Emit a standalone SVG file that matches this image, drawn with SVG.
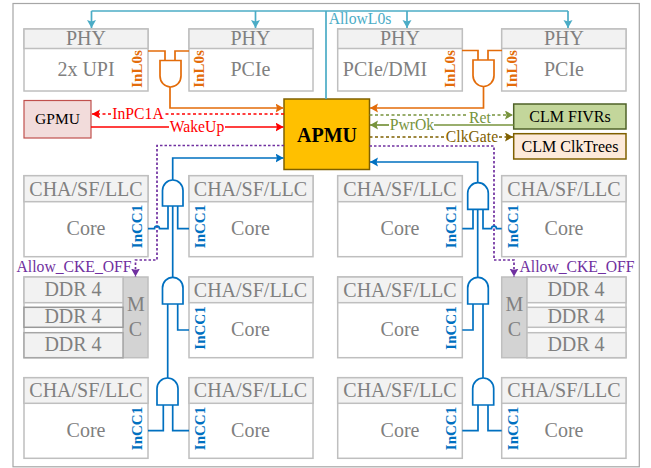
<svg xmlns="http://www.w3.org/2000/svg" width="651" height="468" viewBox="0 0 651 468">
<style>
text{font-family:"Liberation Serif","Times New Roman",serif;}
.box{fill:#fff;stroke:#bfbfbf;stroke-width:1.5}
.hd{fill:#f2f2f2;stroke:#bfbfbf;stroke-width:1.5}
.mc{fill:#d3d3d3;stroke:#bfbfbf;stroke-width:1.5}
.g{font-size:20px;fill:#808080;text-anchor:middle}
.blk{font-size:16px;fill:#000;text-anchor:middle}
.rl{font-size:15px;font-weight:bold;text-anchor:middle}
.or{fill:#e36c0a}.bl{fill:#0070c0}
.c{fill:none;stroke-width:1.7}
.gate{fill:#fff;stroke-width:1.7}
.lab{font-size:15.7px;text-anchor:middle}
</style>
<defs>
<marker id="aT" markerUnits="userSpaceOnUse" markerWidth="9" markerHeight="10" refX="8" refY="4.5" orient="auto"><path d="M0 0L8 4.500L0 9L1.500 4.500Z" fill="#4bacc6"/></marker>
<marker id="aO" markerUnits="userSpaceOnUse" markerWidth="9" markerHeight="10" refX="8" refY="4.5" orient="auto"><path d="M0 0L8 4.500L0 9L1.500 4.500Z" fill="#e36c0a"/></marker>
<marker id="aR" markerUnits="userSpaceOnUse" markerWidth="9" markerHeight="10" refX="8" refY="4.5" orient="auto"><path d="M0 0L8 4.500L0 9L1.500 4.500Z" fill="#f00"/></marker>
<marker id="aG" markerUnits="userSpaceOnUse" markerWidth="9" markerHeight="10" refX="8" refY="4.5" orient="auto"><path d="M0 0L8 4.500L0 9L1.500 4.500Z" fill="#77933c"/></marker>
<marker id="aB" markerUnits="userSpaceOnUse" markerWidth="9" markerHeight="10" refX="8" refY="4.5" orient="auto"><path d="M0 0L8 4.500L0 9L1.500 4.500Z" fill="#7f6000"/></marker>
<marker id="aP" markerUnits="userSpaceOnUse" markerWidth="9" markerHeight="10" refX="8" refY="4.5" orient="auto"><path d="M0 0L8 4.500L0 9L1.500 4.500Z" fill="#7030a0"/></marker>
<marker id="aL" markerUnits="userSpaceOnUse" markerWidth="9" markerHeight="10" refX="8" refY="4.5" orient="auto"><path d="M0 0L8 4.500L0 9L1.500 4.500Z" fill="#0070c0"/></marker>
</defs>
<rect width="651" height="468" fill="#fff"/>
<rect id="frame" x="13" y="3.5" width="626.3" height="463.3" fill="#fff" stroke="#a6a6a6" stroke-width="1.2"/>

<g id="phy1"><rect class="box" x="24" y="29" width="124" height="62"/><rect class="hd" x="24" y="29" width="124" height="19.5"/><text class="g" x="86" y="45">PHY</text><text class="g" x="86" y="76">2x UPI</text><text class="rl or" transform="translate(141.5,69) rotate(-90)">InL0s</text></g>
<g id="phy2"><rect class="box" x="189" y="29" width="124" height="62"/><rect class="hd" x="189" y="29" width="124" height="19.5"/><text class="g" x="250.5" y="45">PHY</text><text class="g" x="250.5" y="76">PCIe</text><text class="rl or" transform="translate(204,69) rotate(-90)">InL0s</text></g>
<g id="phy3"><rect class="box" x="337.7" y="29" width="124.6" height="62"/><rect class="hd" x="337.7" y="29" width="124.6" height="19.5"/><text class="g" x="400" y="45">PHY</text><text class="g" x="385" y="76">PCIe/DMI</text><text class="rl or" transform="translate(455,69) rotate(-90)">InL0s</text></g>
<g id="phy4"><rect class="box" x="501.7" y="29" width="124.3" height="62"/><rect class="hd" x="501.7" y="29" width="124.3" height="19.5"/><text class="g" x="564" y="45">PHY</text><text class="g" x="564" y="76">PCIe</text><text class="rl or" transform="translate(517,69) rotate(-90)">InL0s</text></g>

<g id="gpmu"><rect x="24" y="100.5" width="67" height="37.5" fill="#f2dcdb" stroke="#c0504d" stroke-width="1.2"/><text class="blk" style="font-size:15.5px" x="57.5" y="124">GPMU</text></g>
<g id="apmu"><rect x="284" y="99" width="85.5" height="70.5" fill="#ffc000" stroke="#7f6000" stroke-width="1.5"/><text x="327" y="142" font-size="20" font-weight="bold" text-anchor="middle">APMU</text></g>
<g id="fivr"><rect x="513.7" y="104" width="112.3" height="25" fill="#c3d69b" stroke="#4f6228" stroke-width="1.5"/><text class="blk" x="570" y="121.5">CLM FIVRs</text></g>
<g id="clktrees"><rect x="513.7" y="133.7" width="112.3" height="25.3" fill="#fdeada" stroke="#7f6000" stroke-width="1.5"/><text class="blk" x="570" y="151.5">CLM ClkTrees</text></g>

<g id="core-1-1"><rect class="box" x="24" y="175.7" width="124" height="81"/><rect class="hd" x="24" y="175.7" width="124" height="26"/><text class="g" x="86" y="195.5">CHA/SF/LLC</text><text class="g" x="86" y="235">Core</text><text class="rl bl" transform="translate(142,226.5) rotate(-90)">InCC1</text></g>
<g id="core-1-2"><rect class="box" x="189" y="175.7" width="124" height="81"/><rect class="hd" x="189" y="175.7" width="124" height="26"/><text class="g" x="250.5" y="195.5">CHA/SF/LLC</text><text class="g" x="250.5" y="235">Core</text><text class="rl bl" transform="translate(204.5,226.5) rotate(-90)">InCC1</text></g>
<g id="core-1-3"><rect class="box" x="337.7" y="175.7" width="124.6" height="81"/><rect class="hd" x="337.7" y="175.7" width="124.6" height="26"/><text class="g" x="400" y="195.5">CHA/SF/LLC</text><text class="g" x="400" y="235">Core</text><text class="rl bl" transform="translate(455.5,226.5) rotate(-90)">InCC1</text></g>
<g id="core-1-4"><rect class="box" x="501.7" y="175.7" width="124.3" height="81"/><rect class="hd" x="501.7" y="175.7" width="124.3" height="26"/><text class="g" x="564" y="195.5">CHA/SF/LLC</text><text class="g" x="564" y="235">Core</text><text class="rl bl" transform="translate(518,226.5) rotate(-90)">InCC1</text></g>

<g id="ddr-left"><rect class="mc" x="123" y="277" width="25" height="80.7"/><rect class="box" x="24" y="277" width="99" height="80.7"/><rect class="hd" x="24" y="277" width="99" height="25.7"/><rect class="hd" style="stroke:#999" x="24" y="307.3" width="99" height="20"/><rect class="hd" style="stroke:#a6a6a6" x="24" y="332.7" width="99" height="25"/><text class="g" x="73" y="296">DDR 4</text><text class="g" x="73" y="323">DDR 4</text><text class="g" x="73" y="351">DDR 4</text><text class="g" x="136" y="311">M</text><text class="g" x="135.5" y="336">C</text></g>
<g id="ddr-right"><rect class="mc" x="501.7" y="277" width="25.3" height="80.7"/><rect class="box" x="527" y="277" width="99" height="80.7"/><rect class="hd" x="527" y="277" width="99" height="25.7"/><rect class="hd" x="527" y="307.3" width="99" height="20"/><rect class="hd" x="527" y="332.7" width="99" height="25"/><text class="g" x="576" y="296">DDR 4</text><text class="g" x="576" y="323">DDR 4</text><text class="g" x="576" y="351">DDR 4</text><text class="g" x="514.5" y="311">M</text><text class="g" x="514.5" y="336">C</text></g>

<g id="core-2-2"><rect class="box" x="189" y="277" width="124" height="80.7"/><rect class="hd" x="189" y="277" width="124" height="25.7"/><text class="g" x="250.5" y="296.5">CHA/SF/LLC</text><text class="g" x="250.5" y="336">Core</text><text class="rl bl" transform="translate(204.5,328) rotate(-90)">InCC1</text></g>
<g id="core-2-3"><rect class="box" x="337.7" y="277" width="124.6" height="80.7"/><rect class="hd" x="337.7" y="277" width="124.6" height="25.7"/><text class="g" x="400" y="296.5">CHA/SF/LLC</text><text class="g" x="400" y="336">Core</text><text class="rl bl" transform="translate(455.5,328) rotate(-90)">InCC1</text></g>

<g id="core-3-1"><rect class="box" x="24" y="377.7" width="124" height="80.6"/><rect class="hd" x="24" y="377.7" width="124" height="25.6"/><text class="g" x="86" y="397">CHA/SF/LLC</text><text class="g" x="86" y="437">Core</text><text class="rl bl" transform="translate(142,428.5) rotate(-90)">InCC1</text></g>
<g id="core-3-2"><rect class="box" x="189" y="377.7" width="124" height="80.6"/><rect class="hd" x="189" y="377.7" width="124" height="25.6"/><text class="g" x="250.5" y="397">CHA/SF/LLC</text><text class="g" x="250.5" y="437">Core</text><text class="rl bl" transform="translate(204.5,428.5) rotate(-90)">InCC1</text></g>
<g id="core-3-3"><rect class="box" x="337.7" y="377.7" width="124.6" height="80.6"/><rect class="hd" x="337.7" y="377.7" width="124.6" height="25.6"/><text class="g" x="400" y="397">CHA/SF/LLC</text><text class="g" x="400" y="437">Core</text><text class="rl bl" transform="translate(455.5,428.5) rotate(-90)">InCC1</text></g>
<g id="core-3-4"><rect class="box" x="501.7" y="377.7" width="124.3" height="80.6"/><rect class="hd" x="501.7" y="377.7" width="124.3" height="25.6"/><text class="g" x="564" y="397">CHA/SF/LLC</text><text class="g" x="564" y="437">Core</text><text class="rl bl" transform="translate(518,428.5) rotate(-90)">InCC1</text></g>

<g id="connectors">
<g stroke="#4bacc6" fill="none">
<path class="c" d="M326 99V11"/>
<path class="c" d="M91.5 11H568"/>
<path class="c" d="M91.5 11V28" marker-end="url(#aT)"/>
<path class="c" d="M255.5 11V28" marker-end="url(#aT)"/>
<path class="c" d="M407 11V28" marker-end="url(#aT)"/>
<path class="c" d="M568 11V28" marker-end="url(#aT)"/>
</g>
<text class="lab" x="360" y="24" fill="#4bacc6">AllowL0s</text>

<g stroke="#e36c0a" fill="none">
<path class="c" d="M148 51H165V60.5M189 51H175V60.5"/>
<path class="c" d="M170 87V108H283.500" marker-end="url(#aO)"/>
<path class="gate" d="M160 60.5H181V76A10.5 11 0 0 1 160 76Z"/>
<path class="c" d="M462 50.5H478V60M502 50.5H488V60"/>
<path class="c" d="M483.5 86.500V108H370" marker-end="url(#aO)"/>
<path class="gate" d="M473 60H494V75.500A10.500 11 0 0 1 473 75.500Z"/>
</g>

<g fill="none" stroke="#f00">
<path class="c" stroke-dasharray="3 2.500" d="M284 114H165"/>
<path class="c" stroke-dasharray="3 2.500" d="M111 114H92" marker-end="url(#aR)"/>
<path class="c" d="M91 127H169"/>
<path class="c" d="M225 127H283.500" marker-end="url(#aR)"/>
</g>
<text class="lab" x="138" y="118.500" fill="#f00">InPC1A</text>
<text class="lab" x="197" y="131.500" fill="#f00">WakeUp</text>

<g fill="none" stroke="#77933c">
<path class="c" stroke-dasharray="3 2.500" d="M369.500 115H468"/>
<path class="c" stroke-dasharray="3 2.500" d="M492 115H513" marker-end="url(#aG)"/>
<path class="c" d="M513.700 125H434"/>
<path class="c" d="M389 125H370" marker-end="url(#aG)"/>
</g>
<text class="lab" x="480" y="123" fill="#77933c">Ret</text>
<text class="lab" x="412" y="130" fill="#77933c">PwrOk</text>

<g fill="none" stroke="#7f6000">
<path class="c" stroke-dasharray="3 2.500" d="M369.500 137H445"/>
<path class="c" stroke-dasharray="3 2.500" d="M499 137H513" marker-end="url(#aB)"/>
</g>
<text class="lab" x="472" y="142" fill="#7f6000">ClkGate</text>

<g fill="none" stroke="#7030a0">
<path class="c" stroke-dasharray="2.500 2" d="M284 145.500H157V260H135.500V276.500" marker-end="url(#aP)"/>
<path class="c" stroke-dasharray="2.500 2" d="M369.500 146H494V260H514V276.500" marker-end="url(#aP)"/>
</g>
<text x="16.500" y="272" font-size="15.700" fill="#7030a0">Allow_CKE_OFF</text>
<text x="519.500" y="272" font-size="15.700" fill="#7030a0">Allow_CKE_OFF</text>

<g fill="none" stroke="#0070c0">
<path class="c" d="M172.700 180V158H283.500" marker-end="url(#aL)"/>
<path class="c" d="M148 228.700H154.500a2.500 2.500 0 0 1 5 0H168V206"/>
<path class="c" d="M172.700 206V277.300"/>
<path class="c" d="M177.700 206V228.700H189"/>
<path class="gate" d="M162.500 206V190.500A10.250 10.500 0 0 1 183 190.500V206Z"/>
<path class="c" d="M167.700 304V378"/>
<path class="c" d="M177.700 304V330H189"/>
<path class="gate" d="M162.500 304V288A10.250 10.700 0 0 1 183 288V304Z"/>
<path class="c" d="M163.300 405V430.700H148"/>
<path class="c" d="M172.700 405V430.700H189"/>
<path class="gate" d="M157 405V388.500A10.500 10.500 0 0 1 178 388.500V405Z"/>

<path class="c" d="M477.700 183V162H370" marker-end="url(#aL)"/>
<path class="c" d="M473 209V228.700H462.300"/>
<path class="c" d="M477.700 209V277.300"/>
<path class="c" d="M483 209V228.700H491.500a2.500 2.500 0 0 1 5 0H501.700"/>
<path class="gate" d="M467.700 209.300V193.200A10.300 10.500 0 0 1 488.300 193.200V209.300Z"/>
<path class="c" d="M473 304V330H462.300"/>
<path class="c" d="M483 304V378"/>
<path class="gate" d="M467.700 304V288A10.300 10.700 0 0 1 488.300 288V304Z"/>
<path class="c" d="M478 405V430.700H462.300"/>
<path class="c" d="M488 405V430.700H501.700"/>
<path class="gate" d="M472.700 405V388.500A10.500 10.500 0 0 1 493.700 388.500V405Z"/>
</g>
</g>
</svg>
